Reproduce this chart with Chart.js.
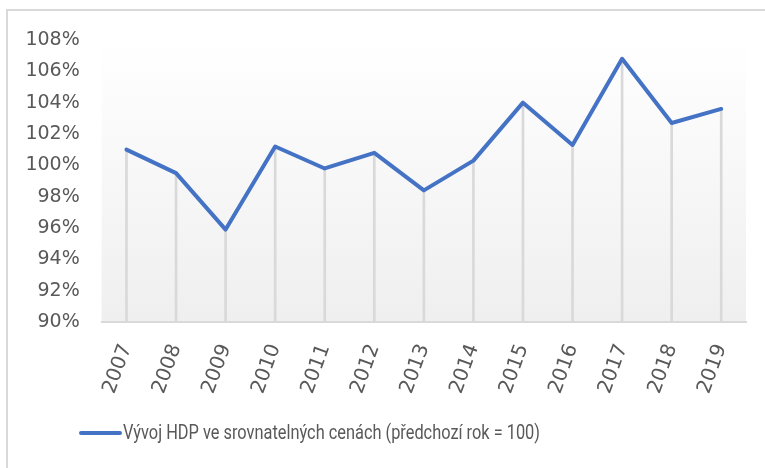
<!DOCTYPE html>
<html><head><meta charset="utf-8">
<script src="https://cdn.jsdelivr.net/npm/chart.js@4"></script>
<style>html,body{margin:0;padding:0;background:#fff;overflow:hidden}</style>
</head><body>
<canvas id="c" width="765" height="468"></canvas>
<script>
const years = ['2007','2008','2009','2010','2011','2012','2013','2014','2015','2016','2017','2018','2019'];
const gdpIndex = [101.0, 99.5, 95.9, 101.2, 99.8, 100.8, 98.4, 100.3, 104.0, 101.3, 106.8, 102.7, 103.6];
const seriesLabel = 'Vývoj HDP ve srovnatelných cenách (předchozí rok = 100)';
const yMin = 90, yMax = 108, yStep = 2;
const lineColor = '#4472C4';
const textColor = '#595959';

const decor = {
  id: 'decor',
  beforeDraw(chart) {
    const {ctx, chartArea: a} = chart;
    ctx.save();
    ctx.fillStyle = '#ffffff';
    ctx.fillRect(0, 0, chart.width, chart.height);
    const g = ctx.createLinearGradient(0, a.top, 0, a.bottom);
    g.addColorStop(0, '#ffffff');
    g.addColorStop(0.12, '#fdfdfd');
    g.addColorStop(1, '#efefef');
    ctx.fillStyle = g;
    ctx.fillRect(a.left, a.top, a.right - a.left, a.bottom - a.top);
    ctx.strokeStyle = '#d9d9d9';
    ctx.lineWidth = 2;
    ctx.beginPath();
    ctx.moveTo(7, chart.height);
    ctx.lineTo(7, 10);
    ctx.lineTo(chart.width, 10);
    ctx.stroke();
    ctx.restore();
  },
  afterDraw(chart) {
    const {ctx} = chart;
    const ds = chart.data.datasets[0];
    ctx.save();
    ctx.strokeStyle = ds.borderColor;
    ctx.lineWidth = 4;
    ctx.lineCap = 'round';
    ctx.beginPath();
    ctx.moveTo(81, 433);
    ctx.lineTo(120, 433);
    ctx.stroke();
    ctx.fillStyle = textColor;
    ctx.font = '20px Roboto, "Open Sans", sans-serif';
    ctx.textBaseline = 'middle';
    ctx.textAlign = 'left';
    const w = ctx.measureText(ds.label).width;
    const target = 417;
    ctx.translate(123, 434);
    if (w > target) ctx.scale(target / w, 1);
    ctx.fillText(ds.label, 0, 0);
    ctx.restore();
  }
};

new Chart(document.getElementById('c'), {
  type: 'line',
  data: {
    labels: years,
    datasets: [
      {
        type: 'line', label: seriesLabel, data: gdpIndex,
        borderColor: lineColor, backgroundColor: lineColor, borderWidth: 4,
        pointRadius: 0, tension: 0, fill: false, order: 0,
        borderCapStyle: 'round', borderJoinStyle: 'round'
      },
      {
        type: 'bar', label: 'drop', data: gdpIndex.map(v => [yMin, v]),
        backgroundColor: '#d9d9d9', barThickness: 2, order: 1
      }
    ]
  },
  options: {
    responsive: false, animation: false, devicePixelRatio: 1,
    layout: {padding: {top: 40, right: 19, left: 0, bottom: 0}},
    plugins: {legend: {display: false}, tooltip: {enabled: false}},
    scales: {
      x: {
        offset: true,
        grid: {display: false, drawTicks: false},
        border: {display: true, color: '#d9d9d9', width: 2},
        ticks: {font: {family: 'DejaVu Sans', size: 20}, color: textColor,
                minRotation: 70, maxRotation: 70, padding: 19, autoSkip: false},
        afterFit(s) { s.height = 146; }
      },
      y: {
        min: yMin, max: yMax,
        grid: {display: false, drawTicks: false},
        border: {display: false},
        ticks: {stepSize: yStep, callback: v => v + '%',
                font: {family: 'DejaVu Sans', size: 19}, color: textColor, padding: 22},
        afterFit(s) { s.width = 101.7; }
      }
    }
  },
  plugins: [decor]
});
</script>
</body></html>
